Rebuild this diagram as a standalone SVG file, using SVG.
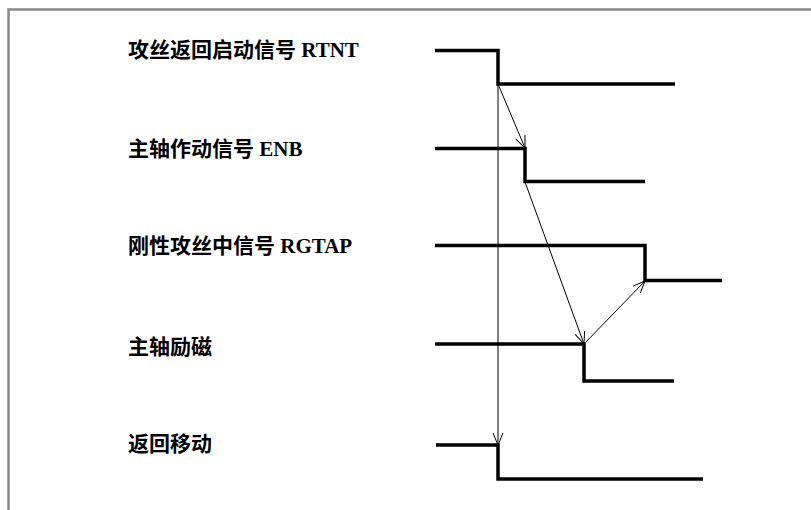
<svg xmlns="http://www.w3.org/2000/svg" width="811" height="510" viewBox="0 0 811 510">
<style>
.lbl{font-family:"Liberation Serif","Noto Sans CJK SC",serif;font-weight:bold;font-size:21px;fill:#000}
.sig{fill:none;stroke:#000;stroke-width:3.5;stroke-linejoin:miter}
.arr{fill:none;stroke:#000;stroke-width:1}
.frame{fill:none;stroke:#888;stroke-width:2.5}
</style>
<defs>
<marker id="ah" markerUnits="userSpaceOnUse" markerWidth="16" markerHeight="16" refX="13" refY="6" orient="auto" viewBox="0 0 16 12">
<path d="M1,1 L13,6 L1,11" fill="none" stroke="#000" stroke-width="1"/>
</marker>
</defs>
<rect width="811" height="510" fill="#fff"/>
<path class="frame" d="M8.5,510 V9.5 H811"/>
<g id="rtnt">
<text class="lbl" x="128" y="57">攻丝返回启动信号 RTNT</text>
<path class="sig" d="M435,50.5 H498 V84 H675"/>
</g>
<g id="enb">
<text class="lbl" x="128" y="156">主轴作动信号 ENB</text>
<path class="sig" d="M435,148.5 H525 V181.5 H645"/>
</g>
<g id="rgtap">
<text class="lbl" x="128" y="253">刚性攻丝中信号 RGTAP</text>
<path class="sig" d="M435,245.5 H645 V280.5 H722"/>
</g>
<g id="excite">
<text class="lbl" x="128" y="354">主轴励磁</text>
<path class="sig" d="M435,344 H584 V381 H674"/>
</g>
<g id="retmove">
<text class="lbl" x="128" y="451">返回移动</text>
<path class="sig" d="M436,445 H498 V479 H703"/>
</g>
<g id="connectors">
<line class="arr" x1="498" y1="84" x2="525" y2="148" marker-end="url(#ah)"/>
<line class="arr" x1="525" y1="182" x2="584" y2="344" marker-end="url(#ah)"/>
<line class="arr" x1="584" y1="344" x2="645" y2="281" marker-end="url(#ah)"/>
<line class="arr" x1="498" y1="84" x2="498" y2="445" marker-end="url(#ah)"/>
</g>
</svg>
